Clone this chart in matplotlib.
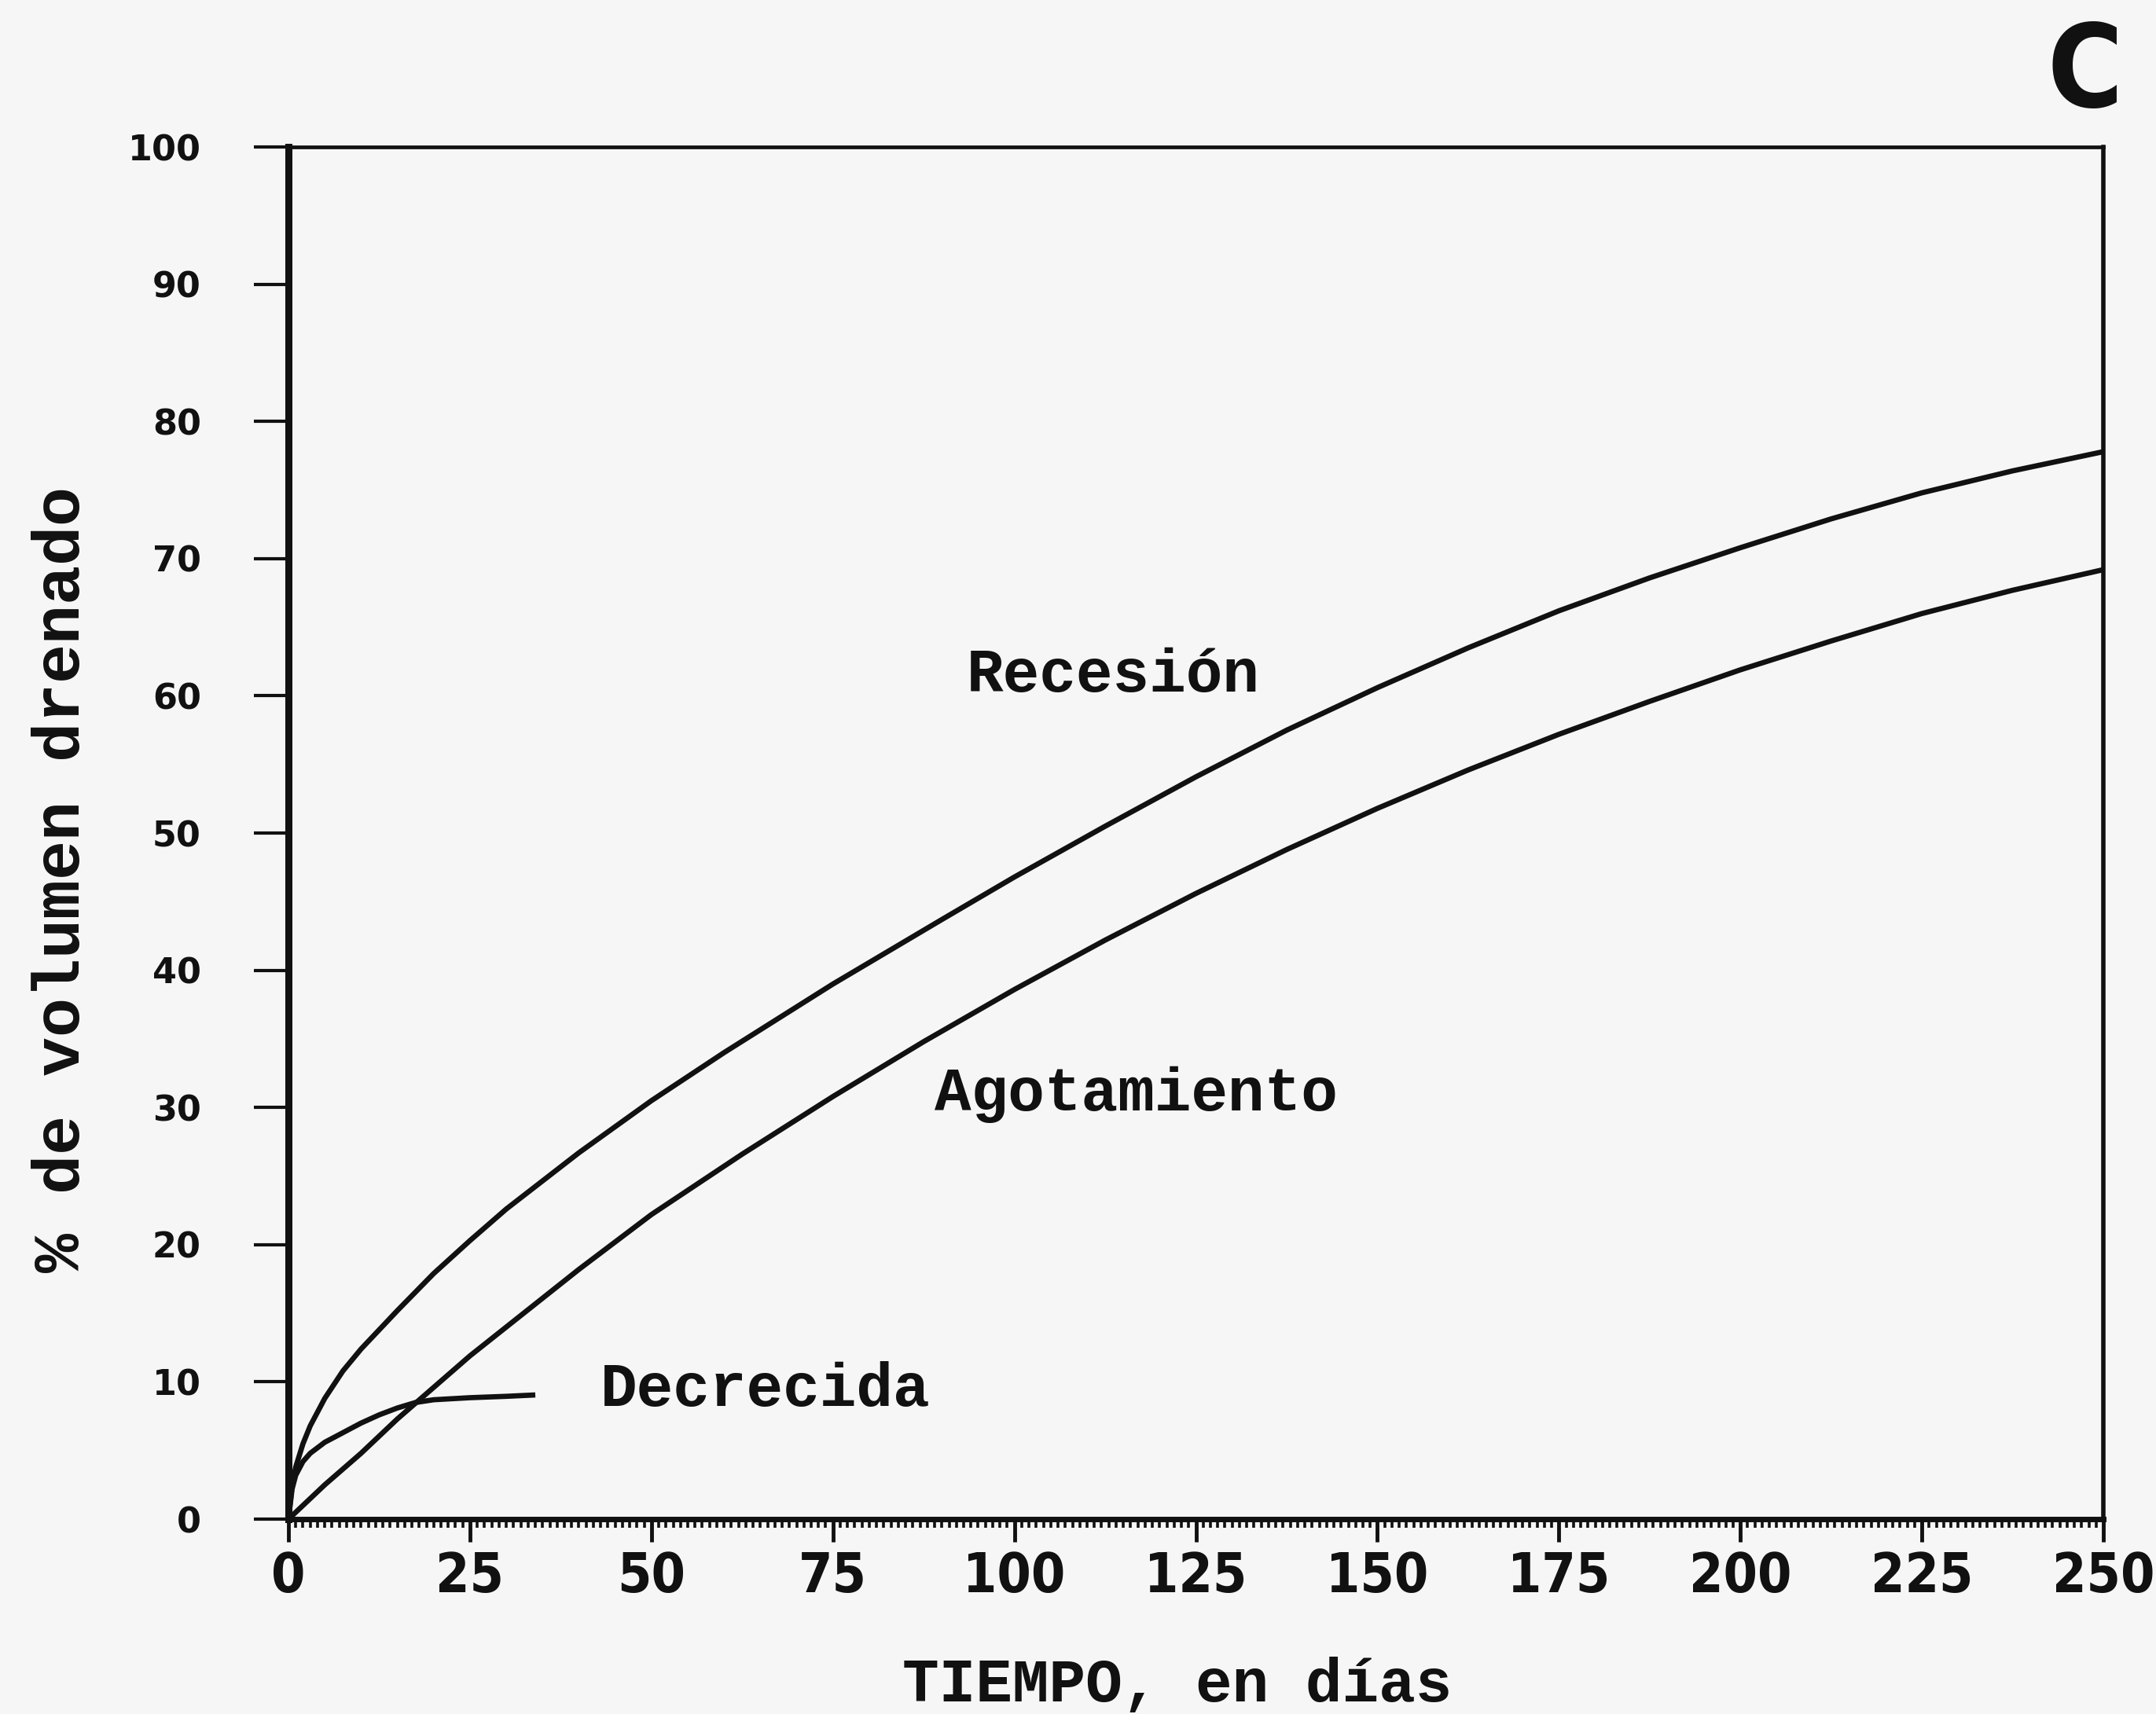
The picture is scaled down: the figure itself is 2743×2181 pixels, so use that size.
import matplotlib
matplotlib.use("Agg")
import matplotlib.pyplot as plt
from matplotlib.ticker import MultipleLocator
from matplotlib import font_manager as fm

# ---- data ----
t_recesion = [0, 0.5, 1, 2, 3, 5, 7.5, 10, 15, 20, 25, 30, 40, 50, 60, 75, 90, 100,
              112.5, 125, 137.5, 150, 162.5, 175, 187.5, 200, 212.5, 225, 237.5, 250]
v_recesion = [0, 2.5, 3.8, 5.5, 6.8, 8.8, 10.8, 12.4, 15.2, 17.9, 20.3, 22.6, 26.7, 30.5, 34,
              39, 43.7, 46.8, 50.5, 54.1, 57.5, 60.6, 63.5, 66.2, 68.6, 70.8, 72.9, 74.8,
              76.4, 77.8]

t_agot = [0, 2, 5, 10, 15, 20, 25, 30, 40, 50, 62.5, 75, 87.5, 100, 112.5, 125, 137.5,
          150, 162.5, 175, 187.5, 200, 212.5, 225, 237.5, 250]
v_agot = [0, 1, 2.5, 4.8, 7.3, 9.6, 11.9, 14, 18.2, 22.2, 26.6, 30.8, 34.8, 38.6, 42.2,
          45.6, 48.8, 51.8, 54.6, 57.2, 59.6, 61.9, 64, 66, 67.7, 69.2]

t_decrec = [0, 0.5, 1, 2, 3, 5, 7.5, 10, 12.5, 15, 17.5, 20, 25, 30, 34]
v_decrec = [0, 2.2, 3.2, 4.2, 4.8, 5.6, 6.3, 7.0, 7.6, 8.1, 8.5, 8.7, 8.85, 8.95, 9.05]

x_ticks = [0, 25, 50, 75, 100, 125, 150, 175, 200, 225, 250]
y_ticks = [0, 10, 20, 30, 40, 50, 60, 70, 80, 90, 100]

bg = "#f6f6f6"
ink = "#111111"
mono = ["Liberation Mono", "DejaVu Sans Mono"]


def _is_bold(w):
    if isinstance(w, (int, float)):
        return w >= 600
    return "bold" in str(w).lower() or "black" in str(w).lower()


def _is_cond(f):
    st = f.stretch
    if isinstance(st, (int, float)):
        if st < 500:
            return True
    elif "condensed" in str(st).lower():
        return True
    n = f.name.lower()
    return "narrow" in n or "condensed" in n


def find_condensed_bold():
    best, best_score = None, -1
    for f in fm.fontManager.ttflist:
        if not _is_cond(f):
            continue
        score = 0
        if _is_bold(f.weight):
            score += 2
        if f.style == "normal":
            score += 1
        if score > best_score:
            best, best_score = f, score
    return best


cf = find_condensed_bold()
if cf is not None:
    cond_prop = lambda size: fm.FontProperties(fname=cf.fname, size=size)
    have_cond = True
else:
    cond_prop = lambda size: fm.FontProperties(family="DejaVu Sans", weight="bold", size=size)
    have_cond = False

fig = plt.figure(figsize=(27.43, 21.81), dpi=100, facecolor=bg)
ax = fig.add_axes([0.1338, 0.1137, 0.8418, 0.8005], facecolor=bg)

for t, v in [(t_recesion, v_recesion), (t_agot, v_agot), (t_decrec, v_decrec)]:
    ax.plot(t, v, color=ink, lw=4.8, solid_capstyle="butt", solid_joinstyle="round")

ax.set_xlim(0, 250)
ax.set_ylim(0, 100)

ax.set_xticks(x_ticks)
ax.set_yticks(y_ticks)
ax.xaxis.set_minor_locator(MultipleLocator(1))

ax.tick_params(axis="x", which="major", direction="out", length=21, width=3.5,
               pad=8, colors=ink)
ax.tick_params(axis="x", which="minor", direction="out", length=8, width=2.6, colors=ink)
ax.tick_params(axis="y", which="major", direction="out", length=32, width=3,
               pad=48, colors=ink)

xsize = 50 if have_cond else 40
for lab in ax.get_xticklabels():
    lab.set_fontproperties(cond_prop(xsize))
for lab in ax.get_yticklabels():
    lab.set_family(["DejaVu Sans"])
    lab.set_fontweight("bold")
    lab.set_fontsize(32)

ax.spines["left"].set_linewidth(6.5)
ax.spines["bottom"].set_linewidth(5)
ax.spines["top"].set_linewidth(3.4)
ax.spines["right"].set_linewidth(4)
for s in ax.spines.values():
    s.set_color(ink)

# curve labels
ax.text(93.4, 60.3, "Recesión", family=mono, fontweight="bold", fontsize=56,
        ha="left", va="baseline", color=ink)
ax.text(89.0, 29.8, "Agotamiento", family=mono, fontweight="bold", fontsize=56,
        ha="left", va="baseline", color=ink)
ax.text(43.0, 8.25, "Decrecida", family=mono, fontweight="bold", fontsize=56,
        ha="left", va="baseline", color=ink)

# axis labels
fig.text(0.546, 0.0075, "TIEMPO, en días", family=mono, fontweight="bold",
         fontsize=56, ha="center", va="baseline", color=ink)
fig.text(0.0288, 0.487, "% de volumen drenado", family=mono, fontweight="bold",
         fontsize=60, ha="center", va="center", rotation=90, color=ink)

# panel letter
fig.text(0.967, 0.956, "C", fontproperties=cond_prop(105 if have_cond else 85),
         ha="center", va="center", color=ink)

fig.savefig("out.png", dpi=100, facecolor=bg)
